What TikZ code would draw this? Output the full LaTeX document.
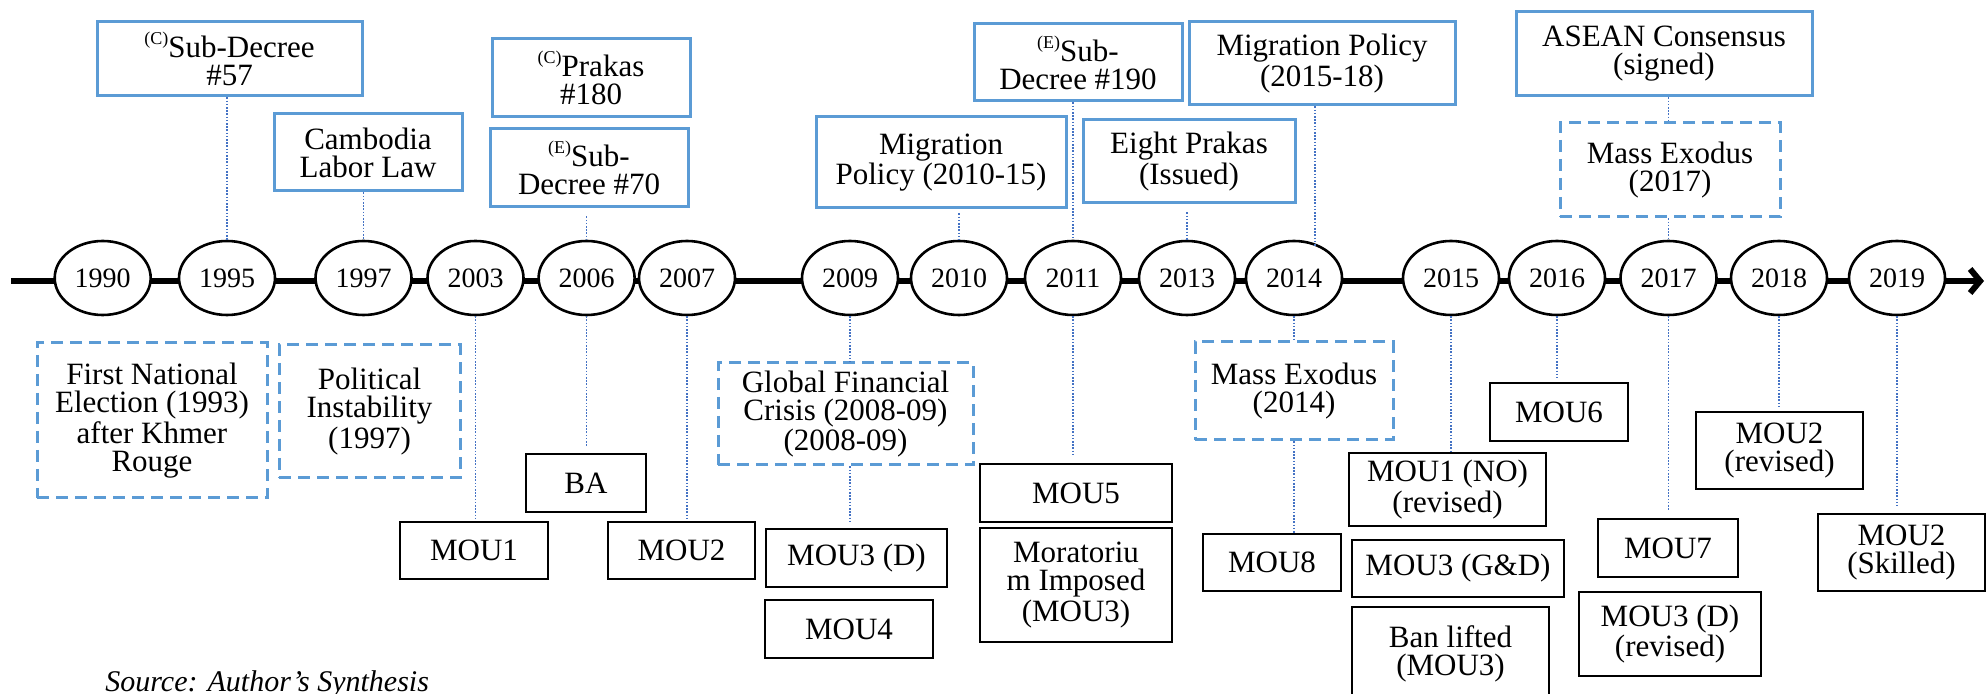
\documentclass[tikz,border=0pt]{standalone}
\usepackage{fontspec}
\setmainfont{Liberation Serif}
\usetikzlibrary{shapes.geometric,arrows.meta}
\definecolor{bl}{RGB}{91,155,213}
\definecolor{cn}{RGB}{68,114,196}
\newcommand\supmark[1]{\raisebox{0.42em}{\fontsize{9}{9}\selectfont #1}}
\begin{document}
\begin{tikzpicture}[x=0.5pt,y=-0.5pt,
  every node/.style={font=\fontsize{15.5}{14}\selectfont},
  corners/.style args={#1/#2/#3/#4}{minimum width={(#3-#1)*0.5pt}, minimum height={(#4-#2)*0.5pt}, at={({(#1+#3)/2},{(#2+#4)/2})}},
  yr/.style={ellipse, draw=black, line width=1.3pt, fill=white, minimum width=48pt, minimum height=37pt, inner sep=0pt, font=\fontsize{14}{14}\selectfont},
  bbox/.style={rectangle, draw=bl, line width=1.5pt, inner sep=0pt, align=center},
  dbox/.style={rectangle, draw=bl, line width=1.5pt, dash pattern=on 6pt off 3.5pt, inner sep=0pt, align=center},
  kbox/.style={rectangle, draw=black, line width=1.3pt, inner sep=0pt, align=center},
  conn/.style={draw=cn, line width=0.6pt, dash pattern=on 0.8pt off 0.8pt},
  axis/.style={line width=3pt, -{Straight Barb[length=5pt,width=12pt]}}]
\useasboundingbox (0,0) rectangle (1986,694);
% axis
\coordinate (ax0) at (11,281);
\coordinate (ax1) at (1984,281);
\draw[axis] (ax0) -- (ax1);
% year nodes
\foreach \x/\y in {102.7/1990,227/1995,363.5/1997,475.5/2003,586.6/2006,687/2007,850/2009,959/2010,1073/2011,1187/2013,1294/2014,1451/2015,1557/2016,1668.5/2017,1779/2018,1897/2019}
  \node[yr] (c\y) at (\x,278) {\y};
% top boxes
\node[bbox, corners=97/22/362/96] (sd57) {\supmark{(C)}Sub-Decree\\\#57};
\node[bbox, corners=274/114/462/191] (cll) {Cambodia\\Labor Law};
\node[bbox, corners=492/39/690/117] (pr180) {\supmark{(C)}Prakas\\\#180};
\node[bbox, corners=490/129/688/207] (sd70) {\supmark{(E)}Sub-\\Decree \#70};
\node[bbox, corners=816/117/1066/208] (mp1015) {Migration\\Policy (2010-15)};
\node[bbox, corners=974/24/1182/101] (sd190) {\supmark{(E)}Sub-\\Decree \#190};
\node[bbox, corners=1083/120/1295/203] (eight) {Eight Prakas\\(Issued)};
\node[bbox, corners=1189/22/1455/105] (mp1518) {Migration Policy\\(2015-18)};
\node[bbox, corners=1516/12/1812/96] (asean) {ASEAN Consensus\\(signed)};
\node[dbox, corners=1560/123/1780/217] (me2017) {Mass Exodus\\(2017)};
% bottom boxes
\node[dbox, corners=37/343/267/498] (fne) {First National\\Election (1993)\\after Khmer\\Rouge};
\node[dbox, corners=279/345/460/478] (pi) {Political\\Instability\\(1997)};
\node[kbox, corners=400/522/548/579] (mou1) {MOU1};
\node[kbox, corners=526/454/646/512] (ba) {BA};
\node[kbox, corners=608/522/755/579] (mou2a) {MOU2};
\node[dbox, corners=718/363/973/465] (gfc) {Global Financial\\Crisis (2008-09)\\(2008-09)};
\node[kbox, corners=766/529/947/587] (mou3d) {MOU3 (D)};
\node[kbox, corners=765/600/933/658] (mou4) {MOU4};
\node[kbox, corners=980/464/1172/522] (mou5) {MOU5};
\node[kbox, corners=980/528/1172/642] (morat) {Moratoriu\\m Imposed\\(MOU3)};
\node[dbox, corners=1195/342/1393/440] (me2014) {Mass Exodus\\(2014)};
\node[kbox, corners=1203/534/1341/591] (mou8) {MOU8};
\node[kbox, corners=1349/453/1546/526] (mou1no) {MOU1 (NO)\\(revised)};
\node[kbox, corners=1352/540/1564/597] (mou3gd) {MOU3 (G\&D)};
\node[kbox, corners=1352/607/1549/700] (ban) {Ban lifted\\(MOU3)};
\node[kbox, corners=1490/383/1628/441] (mou6) {MOU6};
\node[kbox, corners=1598/519/1738/577] (mou7) {MOU7};
\node[kbox, corners=1579/592/1761/676] (mou3dr) {MOU3 (D)\\(revised)};
\node[kbox, corners=1696/412/1863/489] (mou2r) {MOU2\\(revised)};
\node[kbox, corners=1818/514/1985/591] (mou2s) {MOU2\\(Skilled)};
% top connectors
\draw[conn] (sd57.south -| c1995) -- (c1995.north);
\draw[conn] (cll.south -| c1997) -- (c1997.north);
\draw[conn, shorten <=4pt] (sd70.south -| c2006) -- (c2006.north);
\draw[conn, shorten <=2pt] (mp1015.south -| c2010) -- (c2010.north);
\draw[conn] (sd190.south -| c2011) -- (c2011.north);
\draw[conn, shorten <=4pt] (eight.south -| c2013) -- (c2013.north);
\coordinate (k2014) at (1315,247);
\draw[conn] (mp1518.south -| k2014) -- (k2014);
\draw[conn] (asean.south -| c2017) -- (me2017.north -| c2017);
\draw[conn] (me2017.south -| c2017) -- (c2017.north);
% bottom connectors
\draw[conn] (c2003.south) -- (mou1.north -| c2003);
\draw[conn, shorten >=3.5pt] (c2006.south) -- (ba.north -| c2006);
\draw[conn] (c2007.south) -- (mou2a.north -| c2007);
\draw[conn] (c2009.south) -- (gfc.north -| c2009);
\draw[conn, shorten >=3pt] (gfc.south -| c2009) -- (mou3d.north -| c2009);
\draw[conn, shorten >=3pt] (c2011.south) -- (mou5.north -| c2011);
\draw[conn] (c2014.south) -- (me2014.north -| c2014);
\draw[conn] (me2014.south -| c2014) -- (mou8.north -| c2014);
\draw[conn] (c2015.south) -- (mou1no.north -| c2015);
\draw[conn, shorten >=2pt] (c2016.south) -- (mou6.north -| c2016);
\draw[conn, shorten >=4pt] (c2017.south) -- (mou7.north -| c2017);
\draw[conn, shorten >=2pt] (c2018.south) -- (mou2r.north -| c2018);
\draw[conn, shorten >=3.5pt] (c2019.south) -- (mou2s.north -| c2019);
% source
\node[anchor=base west, inner sep=0pt, font=\itshape\fontsize{15}{14}\selectfont] (src) at (105,691) {Source: Author's Synthesis};
\end{tikzpicture}
\end{document}
